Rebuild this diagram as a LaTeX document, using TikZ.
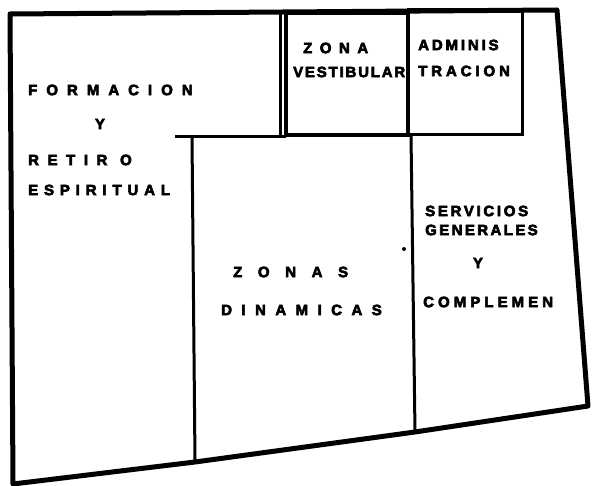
\documentclass[tikz,border=0pt]{standalone}
\usepackage{fontspec}
\setmainfont{Liberation Sans}
\newfontfamily\rotfont{Liberation Sans Bold}[FakeBold=4]
\newcommand{\esp}[1]{\addfontfeature{LetterSpace=#1}}
\begin{document}
\begin{tikzpicture}[x=1pt,y=-1pt,
  rotulo/.style={font=\rotfont\fontsize{15}{16}\selectfont, anchor=west, inner sep=0pt},
  muro/.style={line width=5pt, line join=round},
  tabique/.style={line width=3pt}]

\useasboundingbox (0,0) rectangle (592,486);

% -------------------------------------------------
% Contorno del terreno
% -------------------------------------------------
\coordinate (no) at (10,14);
\coordinate (ne) at (557,10);
\coordinate (se) at (588,406);
\coordinate (so) at (13,484);
\draw[muro] (no) -- (ne) -- (se) -- (415,432) -- (195,462) -- (so) -- cycle;

% -------------------------------------------------
% Formacion / Zonas dinamicas
% -------------------------------------------------
\draw[tabique] (280,13) -- (280,137);
\draw[tabique] (175,137) -- (286,137);
\draw[tabique] (192,137) -- (195,462);

% -------------------------------------------------
% Vestibulo y administracion
% -------------------------------------------------
\draw[line width=4.5pt] (286,13) rectangle (408,135);
\draw[tabique] (408,10) rectangle (522,135);

% -------------------------------------------------
% Servicios generales
% -------------------------------------------------
\draw[tabique] (411,135) -- (415,432);
\fill (404,249) circle (2);

% -------------------------------------------------
% Rotulos
% -------------------------------------------------
\node[rotulo] (formacion) at (28,90) {\esp{60}FORMACION};
\node[rotulo, anchor=center] (y1) at (100,124) {Y};
\node[rotulo] (retiro) at (28,160) {\esp{57}RETIR O};
\node[rotulo] (espiritual) at (28,190) {\esp{39}ESPIRITUAL};

\node[rotulo] (zona) at (303,48) {\esp{50}ZONA};
\node[rotulo] (vestibular) at (293,72) {\esp{12}VESTIBULAR};
\node[rotulo] (adminis) at (418,45) {\esp{19}ADMINIS};
\node[rotulo] (tracion) at (418,71) {\esp{26}TRACION};

\node[rotulo] (zonas) at (233,272) {\esp{104}ZONAS};
\node[rotulo] (dinamicas) at (221,310) {\esp{63}DINAMICAS};

\node[rotulo] (servicios) at (425,211) {\esp{18}SERVICIOS};
\node[rotulo] (generales) at (425,230) {\esp{16}GENERALES};
\node[rotulo, anchor=center] (y2) at (478,263) {Y};
\node[rotulo] (complemen) at (423,302) {\esp{27}COMPLEMEN};

\end{tikzpicture}
\end{document}
